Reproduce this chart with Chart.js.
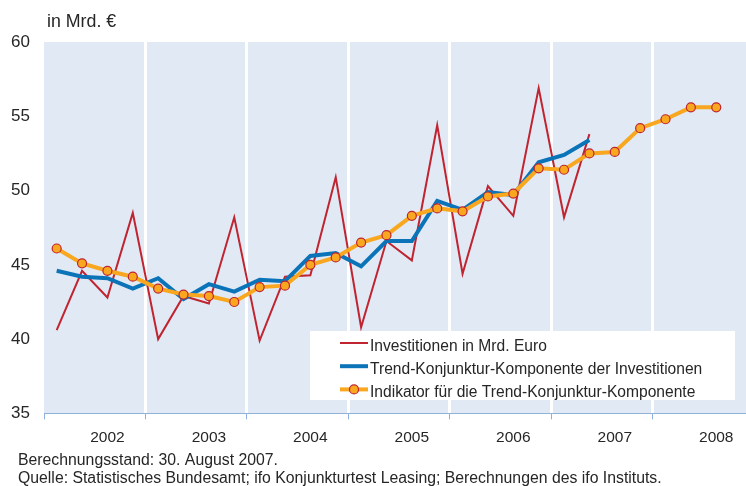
<!DOCTYPE html>
<html>
<head>
<meta charset="utf-8">
<script src="https://cdn.jsdelivr.net/npm/chart.js@4.4.1/dist/chart.umd.min.js"></script>
<style>
  html, body { margin: 0; padding: 0; background: #fff; overflow: hidden; width: 746px; height: 486px; }
  #wrap { position: absolute; left: 0; top: 0; width: 760px; height: 486px; }
</style>
</head>
<body>
<div id="wrap"><canvas id="chart"></canvas></div>
<script>
// quarterly values, 2002 Q1 onwards
const years = ["2002", "2003", "2004", "2005", "2006", "2007", "2008"]
const quarters = years.flatMap((y) => ["Q1", "Q2", "Q3", "Q4"].map((q) => q + " " + y))

const investitionen = [40.6, 44.6, 42.8, 48.5, 40.0, 42.9, 42.4, 48.2, 39.9, 44.2, 44.3, 50.9,
                       40.8, 46.6, 45.3, 54.4, 44.4, 50.3, 48.3, 56.9, 48.2, 53.8]
const trend = [44.6, 44.2, 44.1, 43.4, 44.1, 42.7, 43.7, 43.2, 44.0, 43.9, 45.6, 45.8,
               44.9, 46.6, 46.6, 49.3, 48.7, 49.9, 49.7, 51.9, 52.4, 53.4]
const indikator = [46.1, 45.1, 44.6, 44.2, 43.4, 43.0, 42.9, 42.5, 43.5, 43.6, 45.0, 45.5,
                   46.5, 47.0, 48.3, 48.8, 48.6, 49.6, 49.8, 51.5, 51.4, 52.5, 52.6, 54.2,
                   54.8, 55.6, 55.6]
const yTicks = [35, 40, 45, 50, 55, 60]

const seriesNames = [
  "Investitionen in Mrd. Euro",
  "Trend-Konjunktur-Komponente der Investitionen",
  "Indikator für die Trend-Konjunktur-Komponente"
]
const titleText = "in Mrd. €"
const footerLines = [
  "Berechnungsstand: 30. August 2007.",
  "Quelle: Statistisches Bundesamt; ifo Konjunkturtest Leasing; Berechnungen des ifo Instituts."
]

const RED = "#bf2430"
const BLUE = "#0b74b9"
const ORANGE = "#f8a71f"
const BAND = "#e1e9f4"
const AXIS = "#8fb2dc"
const TEXT = "#262626"
const FONT = "'Liberation Sans', Arial, Helvetica, sans-serif"

// light blue plot background
const plotBackground = {
  id: "plotBackground",
  beforeDraw(chart) {
    const { ctx, chartArea: a } = chart
    ctx.save()
    ctx.fillStyle = BAND
    ctx.fillRect(a.left, a.top, a.right - a.left, a.bottom - a.top)
    ctx.restore()
  }
}

// legend box sitting inside the plot, lower right
const insetLegend = {
  id: "insetLegend",
  afterDatasetsDraw(chart) {
    const { ctx, chartArea: a } = chart
    const left = a.left + 266, top = 331, width = 425, height = 69
    ctx.save()
    ctx.fillStyle = "#fff"
    ctx.fillRect(left, top, width, height)
    ctx.font = "15.6px " + FONT
    ctx.textBaseline = "alphabetic"
    chart.data.datasets.forEach((ds, i) => {
      const y = top + 12 + i * 23.2
      const x1 = left + 30, x2 = left + 58
      ctx.strokeStyle = ds.borderColor
      ctx.lineWidth = ds.borderWidth
      ctx.beginPath()
      ctx.moveTo(x1, y)
      ctx.lineTo(x2, y)
      ctx.stroke()
      if (ds.pointRadius > 0) {
        ctx.beginPath()
        ctx.arc((x1 + x2) / 2, y, ds.pointRadius, 0, Math.PI * 2)
        ctx.fillStyle = ds.pointBackgroundColor
        ctx.fill()
        ctx.lineWidth = ds.pointBorderWidth
        ctx.strokeStyle = ds.pointBorderColor
        ctx.stroke()
      }
      ctx.fillStyle = TEXT
      ctx.fillText(ds.label, x2 + 2, y + 8)
    })
    ctx.restore()
  }
}

// unit label on top, source notes below
const notes = {
  id: "notes",
  afterDraw(chart) {
    const { ctx } = chart
    ctx.save()
    ctx.fillStyle = TEXT
    ctx.textBaseline = "alphabetic"
    ctx.font = "17.8px " + FONT
    ctx.fillText(titleText, 47, 27)
    ctx.font = "15.8px " + FONT
    footerLines.forEach((line, i) => ctx.fillText(line, 18, 465 + i * 18))
    ctx.restore()
  }
}

new Chart(document.getElementById("chart"), {
  type: "line",
  data: {
    labels: quarters,
    datasets: [
      { label: seriesNames[0], data: investitionen, borderColor: RED, borderWidth: 2,
        pointRadius: 0, order: 3 },
      { label: seriesNames[1], data: trend, borderColor: BLUE, borderWidth: 4,
        pointRadius: 0, order: 2 },
      { label: seriesNames[2], data: indikator, borderColor: ORANGE, borderWidth: 4,
        pointRadius: 4.5, pointBackgroundColor: ORANGE, pointBorderColor: RED,
        pointBorderWidth: 1.2, order: 1 }
    ]
  },
  options: {
    responsive: true,
    maintainAspectRatio: false,
    animation: false,
    events: [],
    layout: { padding: { top: 42, left: 11, right: 0, bottom: 30 } },
    plugins: { legend: { display: false }, tooltip: { enabled: false } },
    scales: {
      x: {
        type: "category",
        offset: true,
        grid: {
          offset: true,
          drawOnChartArea: true,
          tickLength: 6,
          lineWidth: (c) => (c.index % 4 === 0 ? 3 : 0),
          color: (c) => (c.index % 4 === 0 && c.index > 0 ? "#ffffff" : "rgba(0,0,0,0)"),
          tickColor: (c) => (c.index % 4 === 0 ? AXIS : "rgba(0,0,0,0)"),
          tickWidth: 1
        },
        border: { display: true, color: AXIS, width: 1 },
        ticks: {
          autoSkip: false,
          maxRotation: 0,
          padding: 9,
          color: TEXT,
          font: { family: FONT, size: 15.5 },
          callback: (v, i) => (i % 4 === 2 ? years[Math.floor(i / 4)] : "")
        }
      },
      y: {
        min: yTicks[0],
        max: yTicks[yTicks.length - 1],
        afterBuildTicks: (s) => { s.ticks = yTicks.map((v) => ({ value: v })) },
        afterFit: (s) => { s.width = 33 },
        grid: { display: false, drawTicks: false },
        border: { display: false },
        ticks: { padding: 14, color: TEXT, font: { family: FONT, size: 17 } }
      }
    }
  },
  plugins: [plotBackground, insetLegend, notes]
})
</script>
</body>
</html>
